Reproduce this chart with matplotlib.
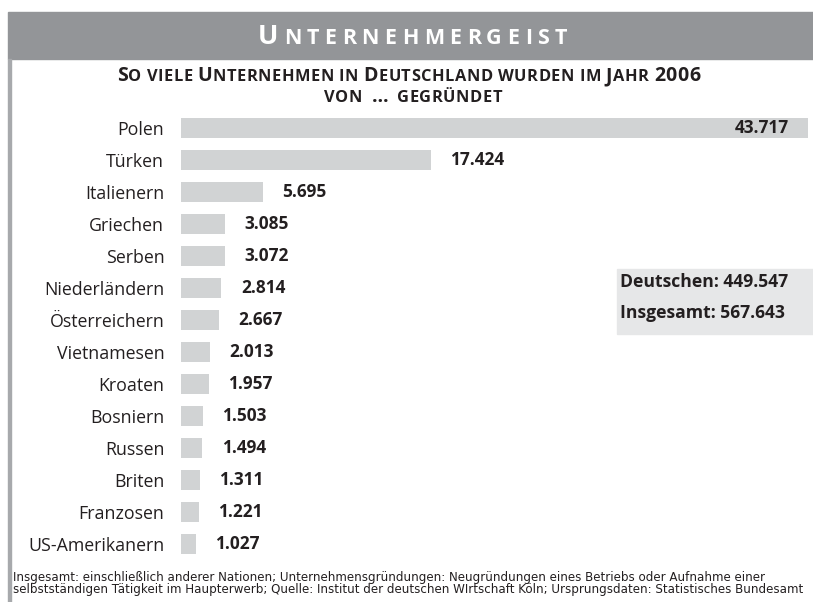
import matplotlib
matplotlib.use("Agg")
import matplotlib.pyplot as plt
from matplotlib.patches import Rectangle

W, H = 813, 602
FONT = "Open Sans"
DARK = "#231f20"

laender = ["Polen", "Türken", "Italienern", "Griechen", "Serben", "Niederländern",
           "Österreichern", "Vietnamesen", "Kroaten", "Bosniern", "Russen", "Briten",
           "Franzosen", "US-Amerikanern"]
gruendungen = [43717, 17424, 5695, 3085, 3072, 2814, 2667, 2013, 1957, 1503, 1494,
               1311, 1221, 1027]
deutsche = 449547
insgesamt = 567643

titel = "Unternehmergeist"
untertitel = ["So viele Unternehmen in Deutschland wurden im Jahr 2006", "von … gegründet"]
fussnote = ["Insgesamt: einschließlich anderer Nationen; Unternehmensgründungen: Neugründungen eines Betriebs oder Aufnahme einer",
            "selbstständigen Tätigkeit im Haupterwerb; Quelle: Institut der deutschen WIrtschaft Köln; Ursprungsdaten: Statistisches Bundesamt"]


def fmt(v):
    return f"{v:,}".replace(",", ".")


def px(x, y):
    # pixel coords (top-left origin) -> figure coords
    return x / W, 1 - y / H


fig = plt.figure(figsize=(W / 100, H / 100), dpi=100)
fig.patch.set_facecolor("white")
r = fig.canvas.get_renderer()


def smallcaps(text, xc, ybase, big, small, color, track=None, width=None):
    # fake small caps: lower case letters drawn as smaller capitals
    pieces = []
    for ch in text:
        if ch == " ":
            pieces.append((None, big * 0.3, 0))
            continue
        s = small if ch.islower() else big
        t = fig.text(0, 0, ch.upper(), fontsize=s, fontweight="bold", family=FONT,
                     color=color, va="baseline", ha="left")
        w = t.get_window_extent(r).width
        pad = 4 if ch == "…" else 0
        pieces.append((t, w + 2 * pad, pad))
    if track is None:
        track = (width - sum(p[1] for p in pieces)) / (len(pieces) - 1)
    total = sum(p[1] for p in pieces) + track * (len(pieces) - 1)
    x = xc - total / 2
    for t, w, pad in pieces:
        if t is not None:
            t.set_position(px(x + pad, ybase))
        x += w + track
    return track


# header band and left border
fig.patches.append(Rectangle(px(8, 59), 805 / W, 47 / H, transform=fig.transFigure,
                             color="#939598", zorder=0))
fig.patches.append(Rectangle(px(8, 602), 3 / W, 543 / H, transform=fig.transFigure,
                             color="#a7a9ac", zorder=0))

smallcaps(titel, 412.5, 44, 19.5, 15.5, "white", width=309)
tr = smallcaps(untertitel[0], 408.5, 81, 14, 11.8, DARK, width=583)
smallcaps(untertitel[1], 413, 102, 14, 11.8, DARK, track=tr)

# bar chart
top, bottom = 112, 560
ax = fig.add_axes([181 / W, 1 - bottom / H, 627 / W, (bottom - top) / H])
ypos = list(range(len(laender)))
ax.barh(ypos, gruendungen, height=0.64, color="#d1d3d4")
ax.set_xlim(0, max(gruendungen))
ax.set_ylim(len(laender) - 0.5, -0.5)
ax.set_yticks(ypos, laender, fontsize=12.8, family=FONT, color=DARK)
ax.tick_params(axis="y", length=0, pad=12)
ax.set_xticks([])
for s in ax.spines.values():
    s.set_visible(False)
ax.patch.set_alpha(0)

for i, v in enumerate(gruendungen):
    if v == max(gruendungen):
        ax.annotate(fmt(v), (v, i), xytext=(-14, 0), textcoords="offset points",
                    ha="right", va="center", fontsize=12.4, fontweight="bold",
                    family=FONT, color=DARK)
    else:
        ax.annotate(fmt(v), (v, i), xytext=(14, 0), textcoords="offset points",
                    ha="left", va="center", fontsize=12.4, fontweight="bold",
                    family=FONT, color=DARK)

# totals box
fig.patches.append(Rectangle(px(617, 334), 196 / W, 65 / H, transform=fig.transFigure,
                             color="#e6e7e8", zorder=0))
fig.text(*px(620, 287), f"Deutschen: {fmt(deutsche)}", fontsize=12.6, fontweight="bold",
         family=FONT, color=DARK, va="baseline")
fig.text(*px(620, 318), f"Insgesamt: {fmt(insgesamt)}", fontsize=12.6, fontweight="bold",
         family=FONT, color=DARK, va="baseline")

# footnote
for zeile, yb in zip(fussnote, [581, 593]):
    fig.text(*px(13, yb), zeile, fontsize=8.55,
             family=["Liberation Sans Narrow", "DejaVu Sans"],
             color=DARK, va="baseline")

fig.savefig("out.png", dpi=100)
